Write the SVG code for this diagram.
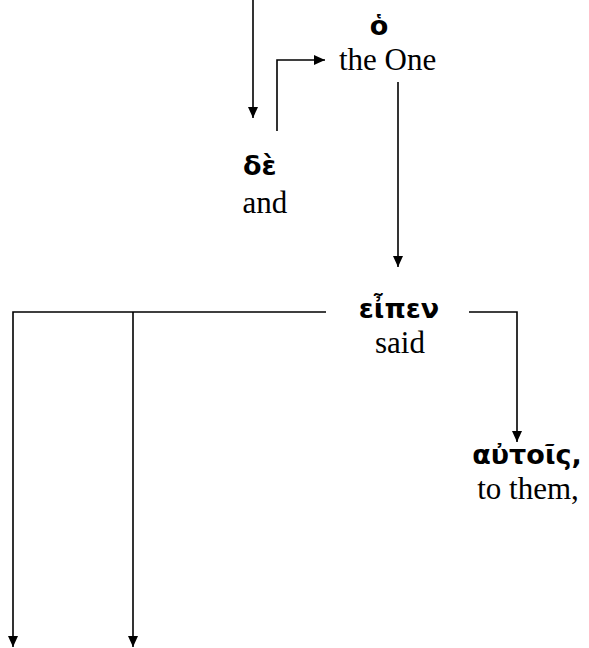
<svg xmlns="http://www.w3.org/2000/svg" width="589" height="648" viewBox="0 0 589 648">
<style>
.gk{font-family:"DejaVu Sans","Noto Sans",sans-serif;font-weight:bold;font-size:27px;fill:#000}
.en{font-family:"Liberation Serif","Times New Roman",serif;font-size:31px;fill:#000}
.ln{fill:none;stroke:#000;stroke-width:1.6}
</style>
<defs>
<marker id="ah" markerWidth="11" markerHeight="10" refX="11" refY="5" orient="auto" markerUnits="userSpaceOnUse">
<path d="M0,0 L11,5 L0,10 Z" fill="#000"/>
</marker>
</defs>
<rect width="589" height="648" fill="#fff"/>
<g id="connectors">
<path class="ln" d="M253,0 V118" marker-end="url(#ah)"/>
<path class="ln" d="M277,131 V60 H325" marker-end="url(#ah)"/>
<path class="ln" d="M398,82 V267" marker-end="url(#ah)"/>
<path class="ln" d="M326,312 H13 V647" marker-end="url(#ah)"/>
<path class="ln" d="M133,312 V647" marker-end="url(#ah)"/>
<path class="ln" d="M469,312 H517 V442" marker-end="url(#ah)"/>
</g>
<g id="node-ho">
<text class="gk" x="379" y="35" text-anchor="middle">ὁ</text>
<text class="en" x="339" y="70">the One</text>
</g>
<g id="node-de">
<text class="gk" x="243" y="175">δὲ</text>
<text class="en" x="265" y="213" text-anchor="middle">and</text>
</g>
<g id="node-eipen">
<text class="gk" x="399" y="318" text-anchor="middle">εἶπεν</text>
<text class="en" x="400" y="353" text-anchor="middle">said</text>
</g>
<g id="node-autois">
<text class="gk" x="527" y="464" text-anchor="middle">αὐτοῖς,</text>
<text class="en" x="528" y="499" text-anchor="middle">to them,</text>
</g>
</svg>
